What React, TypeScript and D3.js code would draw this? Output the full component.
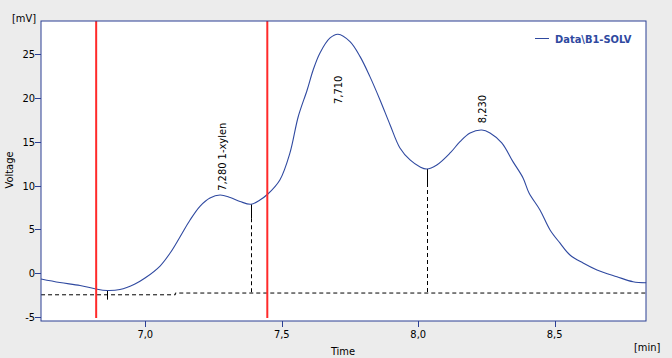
import React from "react";
import * as d3 from "d3";

const times = [6.618, 6.687, 6.761, 6.819, 6.86, 6.907, 6.962, 6.999, 7.054, 7.091, 7.127, 7.164, 7.201, 7.237, 7.274, 7.311, 7.347, 7.387, 7.42, 7.449, 7.493, 7.53, 7.56, 7.593, 7.615, 7.64, 7.677, 7.706, 7.75, 7.787, 7.823, 7.86, 7.897, 7.933, 7.97, 8.007, 8.031, 8.068, 8.117, 8.153, 8.19, 8.233, 8.263, 8.306, 8.347, 8.384, 8.406, 8.446, 8.483, 8.519, 8.556, 8.604, 8.655, 8.728, 8.787, 8.835];
const voltages = [-0.65, -1.05, -1.39, -1.79, -1.96, -1.85, -1.22, -0.54, 0.83, 2.31, 4.14, 6.08, 7.67, 8.59, 8.93, 8.64, 8.19, 7.87, 8.36, 9.04, 10.64, 13.72, 17.82, 20.9, 23.18, 25.12, 26.83, 27.25, 26.41, 24.7, 22.42, 19.76, 16.91, 14.29, 12.92, 12.12, 11.89, 12.35, 13.72, 15.01, 16.0, 16.34, 16.0, 14.86, 12.73, 10.87, 9.16, 7.22, 4.94, 3.46, 2.09, 1.17, 0.38, -0.39, -0.96, -1.07];

const xTicks = [7.0, 7.5, 8.0, 8.5];
const xTickLabels = ["7,0", "7,5", "8,0", "8,5"];
const yTicks = [-5, 0, 5, 10, 15, 20, 25];

const markerTimes = [6.82, 7.447];
const baselineTimes = [6.618, 7.11, 7.11, 8.835];
const baselineValues = [-2.45, -2.45, -2.25, -2.25];

const dropTimes = [6.86, 7.387, 8.031];
const dropTops = [-1.96, 7.87, 11.89];
const dropBottoms = [-3.0, -2.25, -2.25];

const peakLabels = ["7,280 1-xylen", "7,710", "8,230"];
const peakTimes = [7.28, 7.705, 8.233];
const peakValues = [9.4, 19.3, 17.1];
const seriesName = "Data\\B1-SOLV";

const W = 672, H = 358;
const L = 41, R = 646, T = 21, B = 321;
const FONT = "'DejaVu Sans Condensed', 'DejaVu Sans', sans-serif";

export default function App() {
  const x = d3.scaleLinear().domain([7.0, 8.5]).range([145.3, 554.7]);
  const y = d3.scaleLinear().domain([0, 25]).range([273.3, 54]);
  const pts: [number, number][] = times.map((t, i) => [t, voltages[i]]);
  const line = d3.line<[number, number]>().x(d => x(d[0])).y(d => y(d[1])).curve(d3.curveCatmullRom.alpha(0.5));
  const bpts: [number, number][] = baselineTimes.map((t, i) => [t, baselineValues[i]]);
  const bline = d3.line<[number, number]>().x(d => x(d[0])).y(d => y(d[1]));
  const blue = "#2f49a0";
  const axisBlue = "#2b3f93";
  return (
    <svg width={W} height={H} style={{ position: "absolute", left: 0, top: 0, background: "#ececec" }} fontFamily={FONT}>
      <rect x={0} y={0} width={W} height={H} fill="#ececec" />
      <rect x={L} y={T} width={R - L} height={B - T} fill="#fff" />
      <path d={bline(bpts) || ""} fill="none" stroke="#000" strokeWidth={1} strokeDasharray="4,3" />
      {dropTimes.map((t, i) => {
        const xx = Math.round(x(t)) + 0.5;
        const y0 = y(dropTops[i]);
        const y1 = y(dropBottoms[i]);
        if (i === 0) {
          return <line key={i} x1={xx} x2={xx} y1={y0} y2={y1} stroke="#000" />;
        }
        return (
          <g key={i}>
            <line x1={xx} x2={xx} y1={y0} y2={y0 + 14} stroke="#000" />
            <line x1={xx} x2={xx} y1={y0 + 14} y2={y1} stroke="#000" strokeDasharray="4,3" />
          </g>
        );
      })}
      <path d={line(pts) || ""} fill="none" stroke={blue} strokeWidth={1.1} />
      {markerTimes.map((t, i) => (
        <line key={i} x1={x(t)} x2={x(t)} y1={T} y2={318} stroke="#ff2a2a" strokeWidth={2} />
      ))}
      {peakLabels.map((s, i) => (
        <text key={i} transform={`translate(${x(peakTimes[i]) + 4},${y(peakValues[i])}) rotate(-90)`} fontSize={11} fill="#000">{s}</text>
      ))}
      <rect x={L} y={T} width={R - L} height={B - T} fill="none" stroke={axisBlue} strokeWidth={1} />
      {yTicks.map(v => (
        <g key={v}>
          <line x1={L - 6} x2={L} y1={Math.round(y(v)) + 0.5} y2={Math.round(y(v)) + 0.5} stroke={axisBlue} />
          <text x={L - 6} y={y(v) + 4} fontSize={11} textAnchor="end" fill="#000">{v}</text>
        </g>
      ))}
      {xTicks.map((v, i) => (
        <g key={v}>
          <line x1={Math.round(x(v)) + 0.5} x2={Math.round(x(v)) + 0.5} y1={B} y2={B + 6} stroke={axisBlue} />
          <text x={x(v)} y={B + 17} fontSize={11} textAnchor="middle" fill="#000">{xTickLabels[i]}</text>
        </g>
      ))}
      <text x={12} y={22} fontSize={11} fill="#000">[mV]</text>
      <text transform={`translate(13,170) rotate(-90)`} fontSize={11} textAnchor="middle" fill="#000">Voltage</text>
      <text x={343} y={355} fontSize={11} textAnchor="middle" fill="#000">Time</text>
      <text x={634} y={351} fontSize={11} fill="#000">[min]</text>
      <line x1={535} x2={549} y1={38.5} y2={38.5} stroke={blue} />
      <text x={555} y={43} fontSize={11} fontWeight="bold" fill={blue}>{seriesName}</text>
    </svg>
  );
}
